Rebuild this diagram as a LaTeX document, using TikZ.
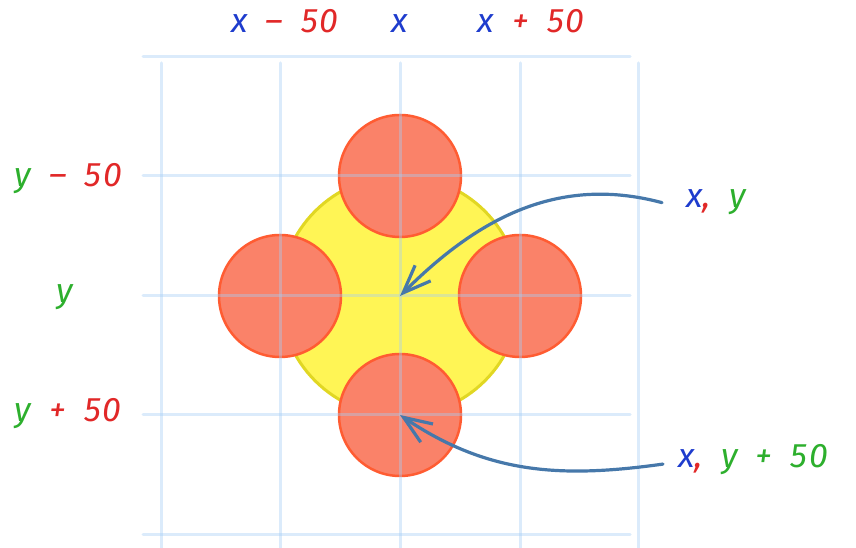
\documentclass[tikz,border=0pt]{standalone}
\usepackage{fontspec}
\setmainfont{Fira Sans}[WordSpace=1.8, LetterSpace=4]
\usetikzlibrary{arrows.meta}
\definecolor{xblue}{RGB}{30,60,205}
\definecolor{nred}{RGB}{225,40,40}
\definecolor{ygreen}{RGB}{45,175,45}
\definecolor{gridblue}{RGB}{165,205,245}
\definecolor{dotfill}{RGB}{250,130,105}
\definecolor{dotline}{RGB}{255,92,50}
\definecolor{sunfill}{RGB}{255,245,85}
\definecolor{sunline}{RGB}{225,215,35}
\definecolor{pointblue}{RGB}{70,120,170}
\newcommand{\vx}{\textcolor{xblue}{x}}
\newcommand{\vy}{\textcolor{ygreen}{y}}
\newcommand{\nr}[1]{\textcolor{nred}{#1}}

\begin{document}
\begin{tikzpicture}[x=1pt, y=1pt, line join=round, line cap=round,
  every node/.style={font=\fontsize{34}{36}\selectfont\itshape, inner sep=0pt},
  gridline/.style={line width=3pt, gridblue, opacity=0.4},
  dot/.style={fill=dotfill, draw=dotline, line width=2.5pt},
  sun/.style={fill=sunfill, draw=sunline, line width=3pt},
  pointer/.style={pointblue, line width=3.2pt, -{Straight Barb[length=28pt, width=22pt]}}]

  \useasboundingbox (0,0) rectangle (856,548);

  \coordinate (c) at (400,252);
  \coordinate (n) at (400,372);
  \coordinate (w) at (280,252);
  \coordinate (e) at (520,252);
  \coordinate (s) at (400,133);

  \draw[sun] (c) circle[radius=120pt];
  \foreach \p in {n, w, e, s} {
    \draw[dot] (\p) circle[radius=61pt];
  }

  \foreach \y in {491, 372, 252, 133, 13} {
    \draw[gridline] (143,\y) -- (630,\y);
  }
  \foreach \x in {161, 280, 400, 520, 638} {
    \draw[gridline] (\x,485) -- (\x,0);
  }

  \node[anchor=base] (xm) at (285,515) {\vx\ \nr{– 50}};
  \node[anchor=base] (x0) at (400,515) {\vx};
  \node[anchor=base] (xp) at (531,515) {\vx\ \nr{+ 50}};

  \node[anchor=base] (ym) at (68,361) {\vy\ \nr{– 50}};
  \node[anchor=base] (y0) at (65,245) {\vy};
  \node[anchor=base] (yp) at (68,126) {\vy\ \nr{+ 50}};

  \node[anchor=base west] (xy) at (686,340) {\vx\nr{,} \vy};
  \node[anchor=base west] (xyp) at (678,80) {\vx\nr{,} \textcolor{ygreen}{y + 50}};

  \draw[pointer] ([xshift=-24pt]xy.west) to[out=165, in=45] (c);
  \draw[pointer] ([shift={(-15pt,-4pt)}]xyp.west) to[out=188, in=-34] (s);

\end{tikzpicture}
\end{document}
